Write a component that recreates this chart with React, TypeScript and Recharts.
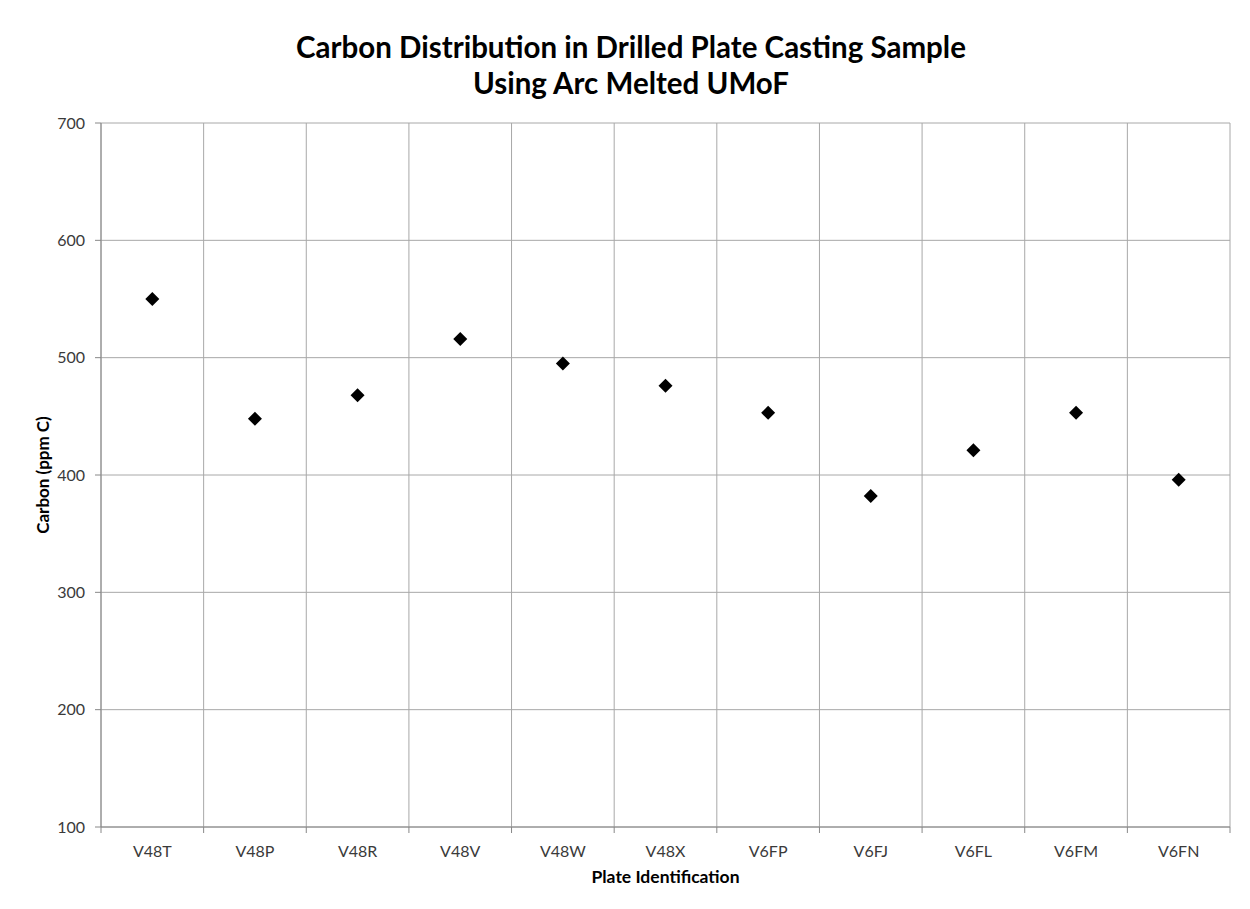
import { ScatterChart, Scatter, XAxis, YAxis, CartesianGrid } from "recharts"

const PLATES = ["V48T", "V48P", "V48R", "V48V", "V48W", "V48X", "V6FP", "V6FJ", "V6FL", "V6FM", "V6FN"]
const CARBON = [550, 448, 468, 516, 495, 476, 453, 382, 421, 453, 396]
const Y_TICKS = [100, 200, 300, 400, 500, 600, 700]

const CHART_W = 1242
const CHART_H = 901
const MARGIN = { top: 115, right: 20, bottom: 22, left: 33 }
const Y_AXIS_W = 60
const PLOT_W = CHART_W - MARGIN.left - MARGIN.right - Y_AXIS_W

const GRID = "#a8a8a8"
const FONT = "Lato, 'Open Sans', sans-serif"

const boundaries = PLATES.map((_, i) => i).concat(PLATES.length)
const data = PLATES.map((plate, i) => ({ plate, pos: i + 0.5, carbon: CARBON[i] }))

function PlateTick(props: any) {
  const { x, y, index } = props
  if (index >= PLATES.length) return null
  const band = PLOT_W / PLATES.length
  return (
    <text x={x + band / 2} y={y + 22} textAnchor="middle" fontSize={16} fill="#3a3a3a" fontFamily={FONT}>
      {PLATES[index]}
    </text>
  )
}

function Diamond(props: any) {
  const { cx, cy } = props
  const r = 7
  return <polygon points={`${cx},${cy - r} ${cx + r},${cy} ${cx},${cy + r} ${cx - r},${cy}`} fill="#000" />
}

export default function App() {
  return (
    <div
      style={{
        position: "relative",
        width: CHART_W,
        height: CHART_H,
        marginLeft: -1,
        marginTop: -1,
        borderLeft: "1px solid #888",
        borderTop: "1px solid #888",
        background: "#fff",
      }}
    >
      <div
        style={{
          position: "absolute",
          left: 0,
          width: 1246,
          top: 21,
          textAlign: "center",
          fontFamily: FONT,
          fontWeight: "bold",
          fontSize: 29.5,
          lineHeight: "36px",
          color: "#000",
        }}
      >
        Carbon Distribution in Drilled Plate Casting Sample
        <br />
        Using Arc Melted UMoF
      </div>
      <ScatterChart width={CHART_W} height={CHART_H} margin={MARGIN}>
        <CartesianGrid stroke={GRID} />
        <XAxis
          type="number"
          dataKey="pos"
          domain={[0, PLATES.length]}
          ticks={boundaries}
          interval={0}
          height={60}
          tickSize={6}
          tick={<PlateTick />}
          axisLine={{ stroke: "#888" }}
          tickLine={{ stroke: "#888" }}
          label={{
            content: ({ viewBox }: any) => (
              <text
                x={viewBox.x + viewBox.width / 2}
                y={viewBox.y + 56}
                textAnchor="middle"
                fontSize={17.5}
                fontWeight="bold"
                fontFamily={FONT}
                fill="#000"
              >
                Plate Identification
              </text>
            ),
          }}
        />
        <YAxis
          type="number"
          dataKey="carbon"
          domain={[100, 700]}
          ticks={Y_TICKS}
          interval={0}
          width={Y_AXIS_W}
          tickSize={6}
          tickMargin={10}
          tick={{ fill: "#3a3a3a", fontSize: 16, fontFamily: FONT }}
          axisLine={{ stroke: "#888" }}
          tickLine={{ stroke: "#888" }}
          label={{
            content: ({ viewBox }: any) => {
              const lx = viewBox.x + 1
              const ly = viewBox.y + viewBox.height / 2
              return (
                <text
                  x={lx}
                  y={ly}
                  transform={`rotate(-90 ${lx} ${ly})`}
                  textAnchor="middle"
                  dominantBaseline="central"
                  fontSize={17}
                  fontWeight="bold"
                  fontFamily={FONT}
                  fill="#000"
                >
                  Carbon (ppm C)
                </text>
              )
            },
          }}
        />
        <Scatter data={data} shape={<Diamond />} isAnimationActive={false} />
      </ScatterChart>
    </div>
  )
}
